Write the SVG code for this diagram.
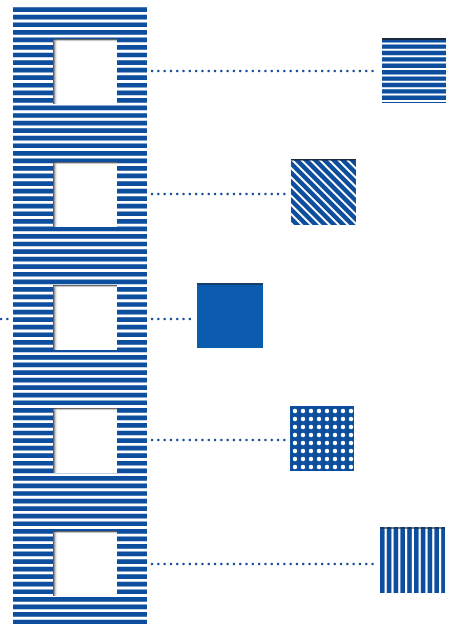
<svg xmlns="http://www.w3.org/2000/svg" width="455" height="624" viewBox="0 0 455 624">
<style>
.conn{stroke:#1a4f9c;stroke-width:2.4;stroke-dasharray:0.1 6.2;stroke-linecap:round;fill:none}
.win{fill:#fff}
.shadowL{fill:url(#shL)}
.shadowT{fill:url(#shT)}
.edge{fill:#1b2a40}
.stripesH{stroke:#0d4f9e;fill:none}
</style>
<defs>
<clipPath id="clipD">
<rect x="291" y="159" width="65" height="66"/>
</clipPath>
<pattern id="dots" patternUnits="userSpaceOnUse" x="290" y="406" width="8" height="8">
<rect width="8" height="8" fill="#0d4f9e"/>
<circle cx="5" cy="5" r="2.2" fill="#fff"/>
</pattern>
<linearGradient id="shL" x1="0" y1="0" x2="1" y2="0">
<stop offset="0" stop-color="#333"/>
<stop offset="1" stop-color="#fff" stop-opacity="0"/>
</linearGradient>
<linearGradient id="shT" x1="0" y1="0" x2="0" y2="1">
<stop offset="0" stop-color="#222"/>
<stop offset="1" stop-color="#fff" stop-opacity="0"/>
</linearGradient>
</defs>
<rect width="455" height="624" fill="#fff"/>
<g id="column">
<line class="stripesH" x1="80" y1="7.3" x2="80" y2="624" stroke-width="134" stroke-dasharray="4.7 2.86"/>
</g>
<g id="window1">
<rect class="win" x="53" y="39" width="64" height="65"/>
<rect class="shadowL" x="53" y="39" width="5" height="65"/>
<rect class="shadowT" x="53" y="39" width="64" height="3"/>
</g>
<g id="window2">
<rect class="win" x="53" y="162" width="64" height="65"/>
<rect class="shadowL" x="53" y="162" width="5" height="65"/>
<rect class="shadowT" x="53" y="162" width="64" height="3"/>
</g>
<g id="window3">
<rect class="win" x="53" y="285" width="64" height="65"/>
<rect class="shadowL" x="53" y="285" width="5" height="65"/>
<rect class="shadowT" x="53" y="285" width="64" height="3"/>
</g>
<g id="window4">
<rect class="win" x="53" y="408" width="64" height="65"/>
<rect class="shadowL" x="53" y="408" width="5" height="65"/>
<rect class="shadowT" x="53" y="408" width="64" height="3"/>
</g>
<g id="window5">
<rect class="win" x="53" y="531" width="64" height="65"/>
<rect class="shadowL" x="53" y="531" width="5" height="65"/>
<rect class="shadowT" x="53" y="531" width="64" height="3"/>
</g>
<g id="connectors">
<line class="conn" x1="152" y1="71" x2="378" y2="71"/>
<line class="conn" x1="152" y1="194" x2="287" y2="194"/>
<line class="conn" x1="152" y1="319" x2="192" y2="319"/>
<line class="conn" x1="1" y1="319" x2="9" y2="319"/>
<line class="conn" x1="152" y1="440" x2="286" y2="440"/>
<line class="conn" x1="152" y1="564" x2="376" y2="564"/>
</g>
<g id="sq-horizontal">
<line class="stripesH" x1="414" y1="38" x2="414" y2="103" stroke-width="64" stroke-dasharray="4.4 2"/>
<rect class="edge" x="382" y="38" width="64" height="2"/>
</g>
<g id="sq-diagonal">
<rect x="291" y="159" width="65" height="66" fill="#fff"/>
<g clip-path="url(#clipD)">
<line class="stripesH" x1="273" y1="192" x2="374" y2="192" stroke-width="140" stroke-dasharray="4.5 2" transform="rotate(-45 323.5 192)"/>
</g>
<rect class="edge" x="291" y="159" width="65" height="1.5"/>
</g>
<g id="sq-solid">
<rect x="197" y="283" width="66" height="65" fill="#0b5cae"/>
<rect class="edge" x="197" y="283" width="66" height="2" opacity="0.6"/>
</g>
<g id="sq-dots">
<rect x="290" y="406" width="64" height="65" fill="url(#dots)"/>
</g>
<g id="sq-vertical">
<line class="stripesH" x1="380" y1="560" x2="445" y2="560" stroke-width="66" stroke-dasharray="4.6 2.2"/>
<rect class="edge" x="380" y="527" width="65" height="2" opacity="0.6"/>
</g>
</svg>
